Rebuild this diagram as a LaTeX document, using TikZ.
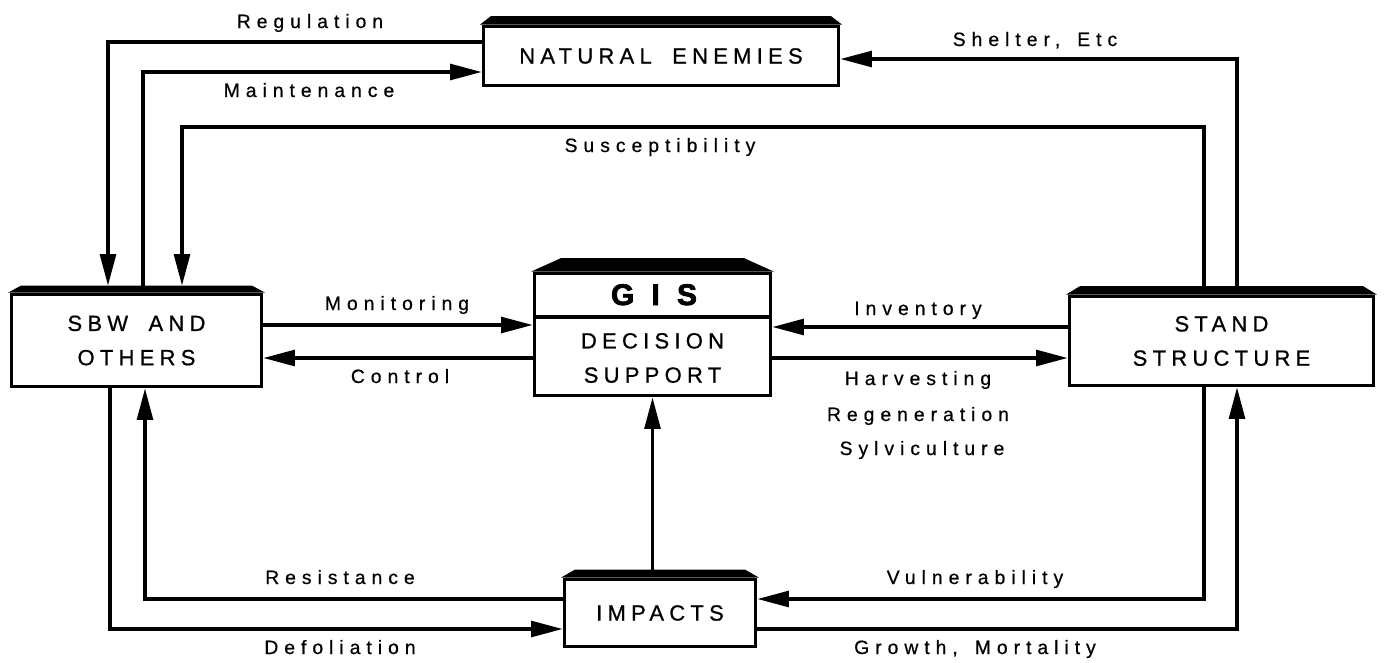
\documentclass[tikz,border=0pt]{standalone}
\usepackage{fontspec}
\setmainfont{Liberation Sans}
\newfontfamily\boxfam[LetterSpace=24, WordSpace=1.8, FakeBold=0.8]{Liberation Sans}
\newfontfamily\lblfam[LetterSpace=31, WordSpace=1.5, FakeBold=0.6]{Liberation Sans}
\newfontfamily\gisfam[LetterSpace=30, FakeBold=2.5]{Liberation Sans Bold}
\newcommand\boxfont{\boxfam\fontsize{12.5pt}{19.5pt}\selectfont}
\newcommand\lblfont{\lblfam\fontsize{11pt}{20pt}\selectfont}
\newcommand\gisfont{\gisfam\fontsize{17pt}{18pt}\selectfont}
\usetikzlibrary{arrows.meta, calc}

\begin{document}
\begin{tikzpicture}[x=0.02cm, y=-0.02cm,
  box/.style={
    rectangle, draw, line width=2.1pt, inner sep=0pt,
    align=center, font=\boxfont},
  arr/.style={-{Triangle[length=18pt, width=9pt]}, line width=1.9pt},
  lbl/.style={anchor=base, inner sep=0pt, font=\lblfont}
]
\useasboundingbox (0,0) rectangle (1384,663);
% ── Boxes ──
\node[box, minimum width=5cm,    minimum height=1.84cm] (SBW)   at (136.5,340.5) {SBW AND\\OTHERS};
\node[box, minimum width=4.72cm, minimum height=2.44cm] (GIS)   at (652.5,334.5) {};
\node[box, minimum width=6.08cm, minimum height=1.78cm] (STAND) at (1221.5,341)  {STAND\\STRUCTURE};
\node[box, minimum width=7.1cm,  minimum height=1.18cm] (NE)    at (661,56)      {NATURAL ENEMIES};
\node[box, minimum width=3.82cm, minimum height=1.34cm] (IMP)   at (660,613)     {IMPACTS};
% ── GIS box contents ──
\draw[line width=2.1pt] (GIS.west |- 0,317) -- (GIS.east |- 0,317);
\node[font=\gisfont, anchor=base, inner sep=0pt] (gisTitle) at (654,305) {G I S};
\node[font=\boxfont, align=center] (gisBody) at (652.5,358) {DECISION\\SUPPORT};
% ── Black top bands ──
\foreach \n/\dx/\h in {SBW/13/7, GIS/30/13.5, STAND/14/8.5, NE/11/8.5, IMP/14/8}{
  \fill ($(\n.north west)+(-1.8,0)$) -- ++(\dx,-\h) -- ($(\n.north east)+(1.8-\dx,-\h)$)
    -- ($(\n.north east)+(1.8,0)$) -- cycle;
  \coordinate (top\n) at ($(\n.north)+(0,-\h)$);
}
% ── Loops over the top ──
\coordinate (reg) at (108,42);
\draw[arr] (reg -| NE.west) -- (reg) -- (reg |- topSBW);
\coordinate (mnt) at (143,72);
\draw[arr] (mnt |- topSBW) -- (mnt) -- (mnt -| NE.west);
\coordinate (susR) at (1204,127);
\coordinate (susL) at (182,127);
\draw[arr] (susR |- topSTAND) -- (susR) -- (susL) -- (susL |- topSBW);
\coordinate (shl) at (1237,59);
\draw[arr] (shl |- topSTAND) -- (shl) -- (shl -| NE.east);
% ── Middle row ──
\coordinate (mon) at (0,325);
\draw[arr] (mon -| SBW.east) -- (mon -| GIS.west);
\coordinate (ctl) at (0,358);
\draw[arr] (ctl -| GIS.west) -- (ctl -| SBW.east);
\coordinate (inv) at (0,327);
\draw[arr] (inv -| STAND.west) -- (inv -| GIS.east);
\coordinate (hrv) at (0,358);
\draw[arr] (hrv -| GIS.east) -- (hrv -| STAND.west);
\draw[arr] (GIS.south |- topIMP) -- (GIS.south);
% ── Loops underneath ──
\coordinate (res) at (145,599);
\draw[arr] (res -| IMP.west) -- (res) -- (res |- SBW.south);
\coordinate (def) at (110,629);
\draw[arr] (def |- SBW.south) -- (def) -- (def -| IMP.west);
\coordinate (vul) at (1204,599);
\draw[arr] (vul |- STAND.south) -- (vul) -- (vul -| IMP.east);
\coordinate (grw) at (1237,629);
\draw[arr] (grw -| IMP.east) -- (grw) -- (grw |- STAND.south);
% ── Flow labels ──
\node[lbl] (lReg) at (310,28)  {Regulation};
\node[lbl] (lMnt) at (309,97)  {Maintenance};
\node[lbl] (lSus) at (660,152) {Susceptibility};
\node[lbl] (lShl) at (1035,46) {Shelter, Etc};
\node[lbl] (lMon) at (397,310) {Monitoring};
\node[lbl] (lCtl) at (400,383) {Control};
\node[lbl] (lInv) at (918,315) {Inventory};
\node[lbl] (lHrv) at (918,385) {Harvesting};
\node[lbl] (lRgn) at (918,421) {Regeneration};
\node[lbl] (lSyl) at (922,455) {Sylviculture};
\node[lbl] (lRes) at (340,584) {Resistance};
\node[lbl] (lDef) at (340,654) {Defoliation};
\node[lbl] (lVul) at (975,584) {Vulnerability};
\node[lbl] (lGrw) at (975,654) {Growth, Mortality};
\end{tikzpicture}
\end{document}
